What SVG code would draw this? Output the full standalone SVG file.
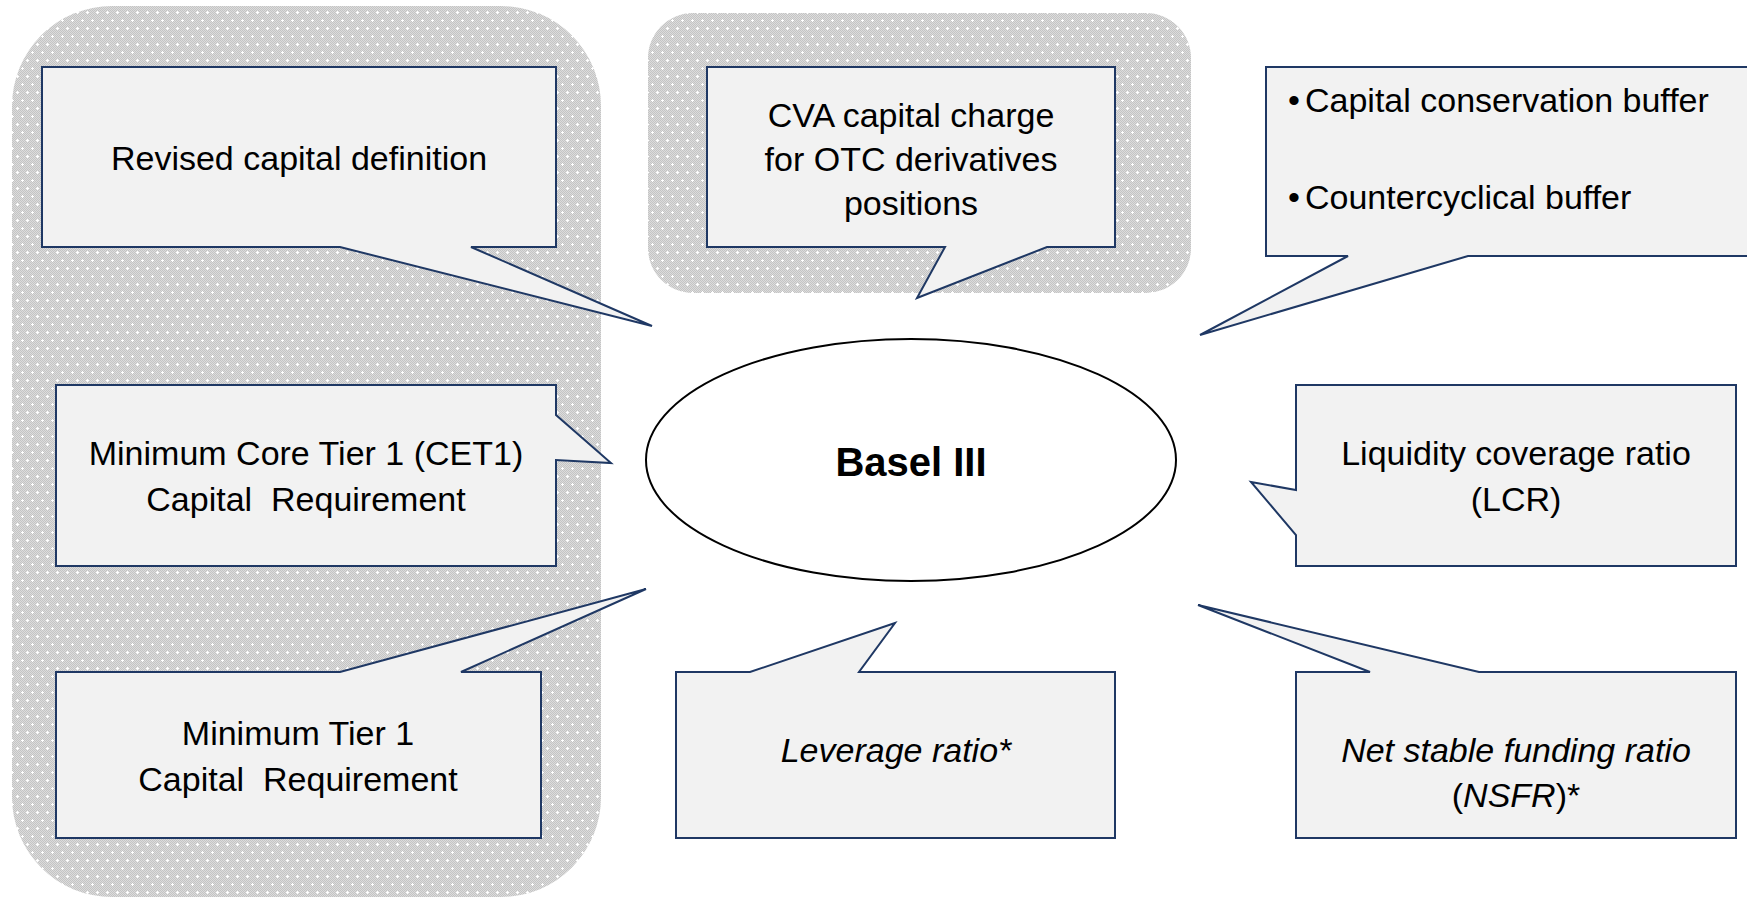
<svg xmlns="http://www.w3.org/2000/svg" width="1747" height="898" viewBox="0 0 1747 898">
  <defs>
    <pattern id="chk" width="2" height="2" patternUnits="userSpaceOnUse">
      <rect width="2" height="2" fill="#dcdcdc"/>
      <rect x="0" y="0" width="1" height="1" fill="#c4c4c4"/>
      <rect x="1" y="1" width="1" height="1" fill="#c4c4c4"/>
    </pattern>
    <pattern id="dots" width="10" height="16" patternUnits="userSpaceOnUse">
      <rect width="10" height="16" fill="url(#chk)"/>
      <rect x="1" y="4" width="3" height="1" fill="#ffffff"/>
      <rect x="2" y="3" width="1" height="3" fill="#ffffff"/>
      <rect x="6" y="12" width="3" height="1" fill="#ffffff"/>
      <rect x="7" y="11" width="1" height="3" fill="#ffffff"/>
    </pattern>
  </defs>
  <style>
    .panel { fill: url(#dots); stroke: none; }
    .box { fill: #f2f2f2; stroke: #1f3864; stroke-width: 2; stroke-linejoin: miter; }
    .lbl { font-family: "Liberation Sans", Arial, sans-serif; font-size: 34px; fill: #000000; text-anchor: middle; }
    .it { font-style: italic; }
    .left { text-anchor: start; }
    .core { fill: #ffffff; stroke: #000000; stroke-width: 2; }
    .title { font-family: "Liberation Sans", Arial, sans-serif; font-size: 40px; font-weight: bold; fill: #000000; text-anchor: middle; }
  </style>
  <rect width="1747" height="898" fill="#ffffff"/>

  <g id="panels">
    <rect class="panel" x="12" y="6" width="589" height="891" rx="100" ry="100"/>
    <rect class="panel" x="648" y="13" width="543" height="280" rx="45" ry="45"/>
  </g>

  <g id="connectors"></g>

  <g id="node-revised">
    <path class="box" d="M42,67 H556 V247 H471 L652,326 L340,247 H42 Z"/>
    <text class="lbl" x="299" y="170">Revised capital definition</text>
  </g>

  <g id="node-cva">
    <path class="box" d="M707,67 H1115 V247 H1047 L917,298 L945,247 H707 Z"/>
    <text class="lbl" x="911" y="127">CVA capital charge</text>
    <text class="lbl" x="911" y="171">for OTC derivatives</text>
    <text class="lbl" x="911" y="215">positions</text>
  </g>

  <g id="node-buffers">
    <path class="box" d="M1266,67 H1752 V256 H1468 L1200,335 L1348,256 H1266 Z"/>
    <text class="lbl left" x="1288" y="112">•<tspan x="1305">Capital conservation buffer</tspan></text>
    <text class="lbl left" x="1288" y="209">•<tspan x="1305">Countercyclical buffer</tspan></text>
  </g>

  <g id="node-cet1">
    <path class="box" d="M56,385 H556 V415 L611,463 L556,460 V566 H56 Z"/>
    <text class="lbl" x="306" y="465">Minimum Core Tier 1 (CET1)</text>
    <text class="lbl" x="306" y="511" xml:space="preserve">Capital  Requirement</text>
  </g>

  <g id="node-basel">
    <ellipse class="core" cx="911" cy="460" rx="265" ry="121"/>
    <text class="title" x="911" y="476">Basel III</text>
  </g>

  <g id="node-lcr">
    <path class="box" d="M1296,385 H1736 V566 H1296 V535 L1251,482 L1296,490 Z"/>
    <text class="lbl" x="1516" y="465">Liquidity coverage ratio</text>
    <text class="lbl" x="1516" y="511">(LCR)</text>
  </g>

  <g id="node-tier1">
    <path class="box" d="M56,672 H340 L646,589 L461,672 H541 V838 H56 Z"/>
    <text class="lbl" x="298" y="745">Minimum Tier 1</text>
    <text class="lbl" x="298" y="791" xml:space="preserve">Capital  Requirement</text>
  </g>

  <g id="node-leverage">
    <path class="box" d="M676,672 H750 L895,623 L859,672 H1115 V838 H676 Z"/>
    <text class="lbl it" x="896" y="762">Leverage ratio*</text>
  </g>

  <g id="node-nsfr">
    <path class="box" d="M1296,672 H1370 L1198,605 L1479,672 H1736 V838 H1296 Z"/>
    <text class="lbl it" x="1516" y="762">Net stable funding ratio</text>
    <text class="lbl" x="1516" y="807">(<tspan class="it">NSFR</tspan>)*</text>
  </g>
</svg>
